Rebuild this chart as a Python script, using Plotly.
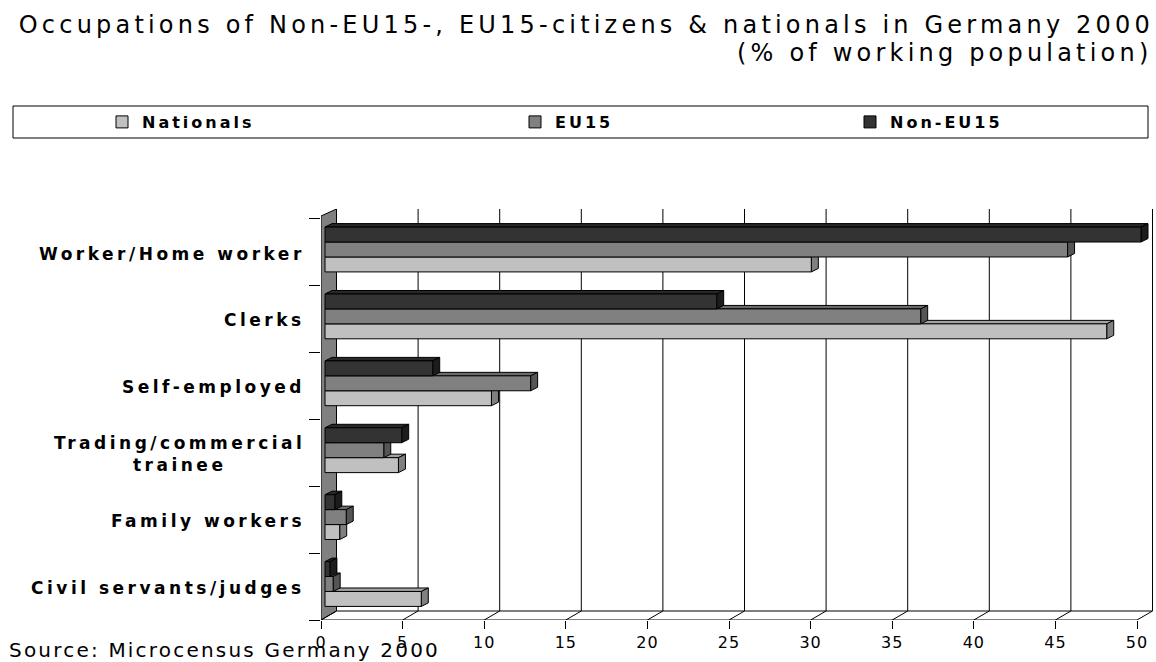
import plotly.graph_objects as go

# datos (% de la poblacion ocupada)
categorias = ["Worker/Home worker", "Clerks", "Self-employed",
              "Trading/commercial<br>trainee", "Family workers", "Civil servants/judges"]
nationals = [29.8, 47.9, 10.2, 4.5, 0.9, 5.9]
eu15 = [45.5, 36.5, 12.6, 3.6, 1.3, 0.5]
non_eu15 = [50.0, 24.0, 6.6, 4.7, 0.6, 0.3]
ticks_x = [0, 5, 10, 15, 20, 25, 30, 35, 40, 45, 50]

series = [
    ("Nationals", nationals, "#c0c0c0", "#a3a3a3", "#808080"),
    ("EU15", eu15, "#808080", "#6a6a6a", "#555555"),
    ("Non-EU15", non_eu15, "#333333", "#282828", "#1c1c1c"),
]

W, H = 1156, 662
PX0, PXU = 325.0, 16.32            # pixel del valor 0 y pixeles por unidad
L, R, T, B = 321, 1153, 209, 620   # area del grafico (plano frontal)
YC0, YSTEP = 584.0, 66.9           # centro de la categoria inferior y paso

xr = [(L - PX0) / PXU, (R - PX0) / PXU]
yr = [-(B - YC0) / YSTEP, (YC0 - T) / YSTEP]
pos = list(range(len(categorias)))[::-1]

# desplazamientos de profundidad
wall_dx = (336.5 - PX0) / PXU
front_dx = (L - PX0) / PXU
wall_dy = 9 / YSTEP
bar_dx = 7 / PXU
bar_dy = 3.5 / YSTEP
bargap = 0.33
bw = (1 - bargap) / 3


def px_x(px):
    return (px - L) / (R - L)


def px_y(py):
    return (B - py) / (B - T)


fig = go.Figure()

legends = ["legend", "legend2", "legend3"]
for k, (nombre, vals, col, col_top, col_side) in enumerate(series):
    fig.add_trace(go.Bar(
        y=pos, x=vals, orientation="h",
        name=f'<span style="letter-spacing:3px">{nombre}</span>',
        marker=dict(color=col, line=dict(color="#000000", width=1)),
        legend=legends[k],
        hovertemplate=nombre + ": %{x}<extra></extra>",
    ))

shapes = []
line_blk = dict(color="#000000", width=1)

# pared izquierda
y_front_top = (YC0 - 216) / YSTEP
shapes.append(dict(type="path", xref="x", yref="y", layer="below",
                   path=f"M{front_dx},{yr[0]} L{front_dx},{y_front_top} L{wall_dx},{yr[1]} L{wall_dx},{yr[0] + wall_dy} Z",
                   fillcolor="#808080", line=line_blk))

# rejilla del fondo, suelo y marcas
for v in ticks_x:
    shapes.append(dict(type="line", xref="x", yref="y", layer="below",
                       x0=v + wall_dx, x1=v + wall_dx, y0=yr[0] + wall_dy, y1=yr[1], line=line_blk))
    shapes.append(dict(type="line", xref="x", yref="y", layer="below",
                       x0=v + front_dx, x1=v + wall_dx, y0=yr[0], y1=yr[0] + wall_dy, line=line_blk))
shapes.append(dict(type="line", xref="x", yref="y", layer="below",
                   x0=wall_dx, x1=ticks_x[-1] + wall_dx, y0=yr[0] + wall_dy, y1=yr[0] + wall_dy, line=line_blk))
shapes.append(dict(type="line", xref="x", yref="y", layer="below",
                   x0=front_dx, x1=ticks_x[-1] + front_dx, y0=yr[0], y1=yr[0], line=line_blk))

# caras 3D de las barras
for k, (nombre, vals, col, col_top, col_side) in enumerate(series):
    for p, v in zip(pos, vals):
        ytop = p + (k - 1) * bw + bw / 2
        ybot = ytop - bw
        shapes.append(dict(type="path", xref="x", yref="y", layer="below",
                           path=f"M0,{ytop} L{v},{ytop} L{v + bar_dx},{ytop + bar_dy} L{bar_dx},{ytop + bar_dy} Z",
                           fillcolor=col_top, line=line_blk))
        shapes.append(dict(type="path", xref="x", yref="y", layer="below",
                           path=f"M{v},{ybot} L{v},{ytop} L{v + bar_dx},{ytop + bar_dy} L{v + bar_dx},{ybot + bar_dy} Z",
                           fillcolor=col_side, line=line_blk))

# caja de la leyenda
shapes.append(dict(type="rect", xref="paper", yref="paper",
                   x0=px_x(13), x1=px_x(1148), y0=px_y(106), y1=px_y(138),
                   line=line_blk, fillcolor="rgba(0,0,0,0)"))

fig.update_layout(shapes=shapes)

leg_font = dict(family="DejaVu Sans", size=16, color="#000000", weight="bold")
for nombre_leg, xpos in zip(legends, [102, 515, 850]):
    fig.update_layout({nombre_leg: dict(
        x=xpos / W, xref="container", xanchor="left",
        y=1 - 122 / H, yref="container", yanchor="middle",
        orientation="h", font=leg_font, bgcolor="rgba(0,0,0,0)",
        borderwidth=0, itemclick=False, itemdoubleclick=False,
    )})

# etiquetas de categoria
anotaciones = []
for p, c in zip(pos, categorias):
    anotaciones.append(dict(
        text=f'<span style="letter-spacing:3.5px">{c}</span>',
        xref="paper", yref="y", x=px_x(307), y=p, yshift=-4,
        xanchor="right", yanchor="middle", align="center", showarrow=False,
        font=dict(family="DejaVu Sans", size=17, color="#000000", weight="bold"),
    ))

anotaciones.append(dict(
    text='<span style="letter-spacing:4.2px">(% of working population)</span>',
    xref="paper", yref="paper", x=px_x(1154), y=px_y(53),
    xanchor="right", yanchor="middle", showarrow=False,
    font=dict(family="DejaVu Sans", size=24, color="#000000"),
))
anotaciones.append(dict(
    text='<span style="letter-spacing:2.2px">Source: Microcensus Germany 2000</span>',
    xref="paper", yref="paper", x=px_x(7), y=px_y(650),
    xanchor="left", yanchor="middle", showarrow=False,
    font=dict(family="DejaVu Sans", size=20, color="#000000"),
))

fig.update_layout(
    title=dict(
        text='<span style="letter-spacing:4.2px">Occupations of Non-EU15-, EU15-citizens &amp; nationals in Germany 2000</span>',
        x=1154 / W, xanchor="right", xref="container",
        y=1 - 25 / H, yanchor="middle", yref="container",
        font=dict(family="DejaVu Sans", size=24, color="#000000"),
    ),
    barmode="group",
    bargap=bargap,
    bargroupgap=0,
    width=W, height=H,
    margin=dict(l=L, r=W - R, t=T, b=H - B, pad=0),
    plot_bgcolor="#ffffff",
    paper_bgcolor="#ffffff",
    showlegend=True,
    xaxis=dict(
        range=xr, showgrid=False, zeroline=False, showline=False,
        tickmode="array",
        tickvals=[v + front_dx for v in ticks_x],
        ticktext=[f'<span style="letter-spacing:1px">{v}</span>' for v in ticks_x],
        ticks="outside", ticklen=8, tickcolor="#000000",
        ticklabelstandoff=0,
        tickfont=dict(family="DejaVu Sans", size=16, color="#000000"),
        fixedrange=True,
    ),
    yaxis=dict(
        range=yr, showgrid=False, zeroline=False, showline=False,
        tickmode="array", tickvals=pos, showticklabels=False, ticks="",
        minor=dict(tickmode="array", tickvals=[yr[0] + i for i in range(len(categorias) + 1)],
                   ticks="outside", ticklen=11, tickcolor="#000000"),
        fixedrange=True,
    ),
    annotations=anotaciones,
)

fig.write_html("out.html", config={"displayModeBar": False},
               post_script="document.body.style.margin='0';")
